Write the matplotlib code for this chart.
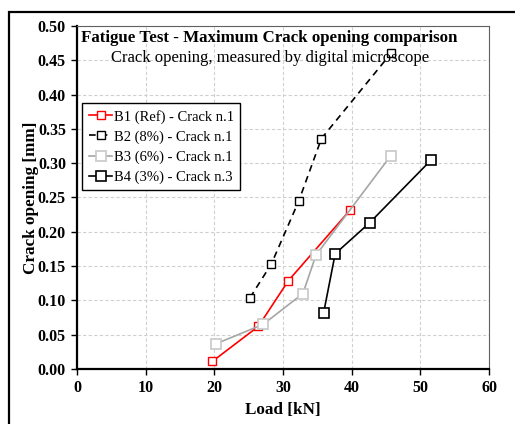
import matplotlib
matplotlib.use('Agg')
import matplotlib.pyplot as plt
from matplotlib.patches import Rectangle

plt.rcParams['font.family'] = ['Liberation Serif', 'DejaVu Serif']

b1_load = [19.7, 26.4, 30.8, 39.8]
b1_crack = [0.011, 0.062, 0.129, 0.232]
b2_load = [25.2, 28.3, 32.3, 35.6, 45.8]
b2_crack = [0.104, 0.153, 0.245, 0.336, 0.461]
b3_load = [20.3, 27.1, 32.9, 34.8, 45.7]
b3_crack = [0.037, 0.065, 0.110, 0.166, 0.311]
b4_load = [35.9, 37.6, 42.6, 51.6]
b4_crack = [0.081, 0.168, 0.213, 0.305]

labels = ['B1 (Ref) - Crack n.1', 'B2 (8%) - Crack n.1',
          'B3 (6%) - Crack n.1', 'B4 (3%) - Crack n.3']

fig = plt.figure(figsize=(5.15, 4.24), dpi=100)
ax = fig.add_axes([77 / 515, 1 - 369 / 424, 412 / 515, 343 / 424])

# outer frame of the chart area
fig.patches.append(Rectangle((9 / 515, -0.1), 1.2, 1.1 - 12 / 424,
                             transform=fig.transFigure, fill=False,
                             edgecolor='black', linewidth=1.6))

ax.plot(b1_load, b1_crack, color='red', lw=1.2, marker='s', ms=6,
        mfc='white', mec='red', mew=1.0, label=labels[0])
ax.plot(b2_load, b2_crack, color='black', lw=1.2, ls=(0, (4, 3)), marker='s',
        ms=6, mfc='white', mec='black', mew=1.0, label=labels[1])
ax.plot(b3_load, b3_crack, color='#a6a6a6', lw=1.2, marker='s', ms=7.5,
        mfc='white', mec='#c8c8c8', mew=1.2, label=labels[2])
ax.plot(b4_load, b4_crack, color='black', lw=1.2, marker='s', ms=7.5,
        mfc='white', mec='black', mew=1.2, label=labels[3])

ax.set_xlim(0, 60)
ax.set_ylim(0, 0.5)
ax.set_xticks(range(0, 61, 10))
ax.set_yticks([i * 0.05 for i in range(11)])
ax.set_yticklabels(['%.2f' % (i * 0.05) for i in range(11)])
ax.grid(True, color='#d0d0d0', ls=(0, (3, 2)), lw=0.8)
ax.set_axisbelow(True)

for lab in ax.get_xticklabels() + ax.get_yticklabels():
    lab.set_fontweight('bold')
    lab.set_fontsize(11.5)
ax.tick_params(direction='out', length=4, width=1, pad=4)

ax.spines['left'].set_linewidth(1.6)
ax.spines['bottom'].set_linewidth(1.6)
ax.spines['top'].set_color('#606060')
ax.spines['right'].set_color('#606060')

ax.set_xlabel('Load [kN]', fontsize=12.3, fontweight='bold', labelpad=4)
ax.set_ylabel('Crack opening [mm]', fontsize=12.3, fontweight='bold', labelpad=-1)

ax.text(0.466, 0.965, 'Fatigue Test - Maximum Crack opening comparison',
        transform=ax.transAxes, ha='center', va='center', fontsize=12.2,
        fontweight='bold')
ax.text(0.468, 0.907, 'Crack opening, measured by digital microscope',
        transform=ax.transAxes, ha='center', va='center', fontsize=12)

leg = ax.legend(loc='upper left', bbox_to_anchor=(0.013, 0.775), fontsize=10.5,
                fancybox=False, framealpha=1, edgecolor='black',
                handlelength=1.6, handletextpad=0.1, borderpad=0.45,
                labelspacing=0.45, borderaxespad=0)
leg.get_frame().set_linewidth(1.0)

fig.savefig('out.png', dpi=100)
